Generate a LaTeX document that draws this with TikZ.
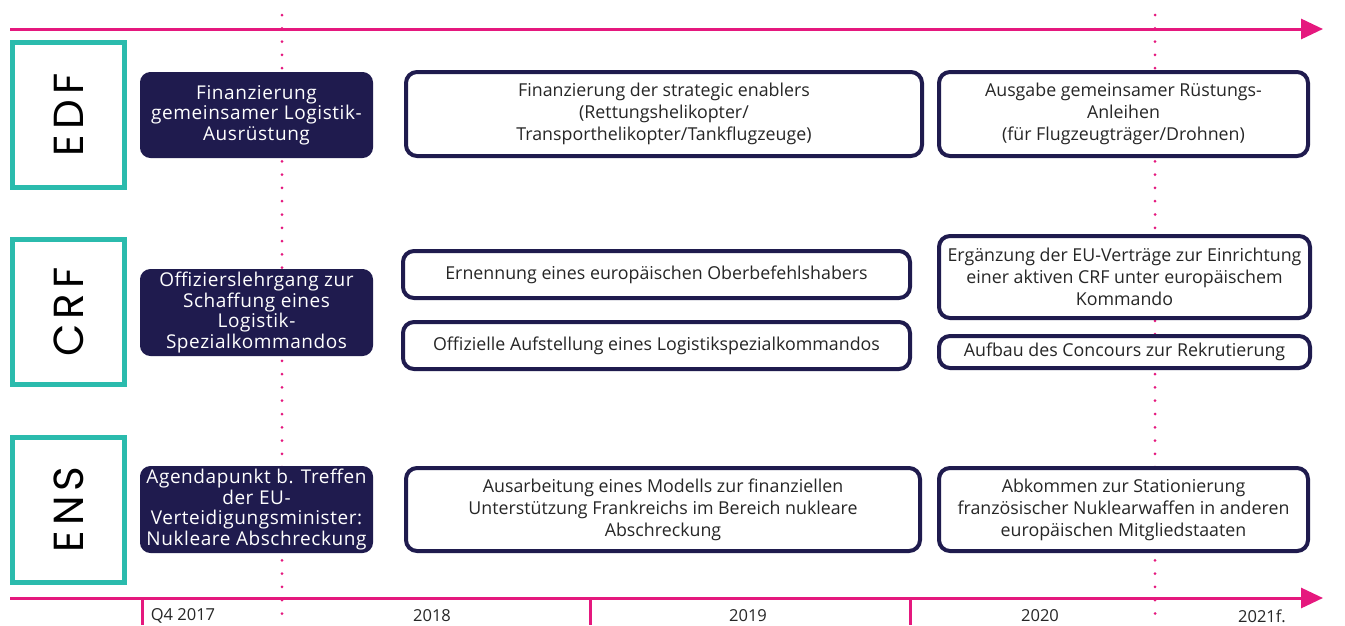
\documentclass[tikz,border=0pt]{standalone}
\usepackage{fontspec}
\setmainfont{Open Sans}
\newfontfamily\labfont{Poppins}[LetterSpace=12]
\newfontfamily\darkfont{Open Sans}[LetterSpace=3]
\usetikzlibrary{arrows.meta}
\definecolor{navy}{HTML}{1F1B4E}
\definecolor{tealc}{HTML}{2BBBAD}
\definecolor{pinkc}{HTML}{E5187E}
\definecolor{txtc}{HTML}{262626}
\begin{document}
\begin{tikzpicture}[x=1pt,y=-1pt,
  lab/.style={draw=tealc, line width=5pt, fill=white, minimum width=145pt, minimum height=112pt, inner sep=0pt, outer sep=0pt, rotate=90, font=\labfont\fontsize{42}{44}\selectfont, text=black},
  dbox/.style={fill=navy, draw=navy, line width=1pt, rounded corners=10pt, text=white, align=center, inner sep=0pt, outer sep=0pt, minimum width=232pt, font=\darkfont\fontsize{19}{20.5}\selectfont},
  wbox/.style={fill=white, draw=navy, line width=4pt, rounded corners=11pt, text=txtc, align=center, inner sep=0pt, outer sep=0pt, font=\fontsize{17.8}{22}\selectfont},
  axis/.style={pinkc, line width=3pt, -{Triangle[length=22pt,width=20pt]}},
  tick/.style={pinkc, line width=3pt},
  dots/.style={pinkc, line width=3pt, line cap=round, dash pattern=on 0pt off 13.3pt},
  yr/.style={text=txtc, font=\fontsize{16.5}{18}\selectfont, inner sep=0pt}
]
\useasboundingbox (0,0) rectangle (1345,625);
\fill[white] (0,0) rectangle (1345,625);

% dotted period lines
\coordinate (d1a) at (282,15);
\coordinate (d1b) at (282,625);
\coordinate (d2a) at (1155,15);
\coordinate (d2b) at (1155,625);
\draw[dots] (d1a) -- (d1b);
\draw[dots] (d2a) -- (d2b);

% axes
\coordinate (ta) at (10,29);
\coordinate (tb) at (1323,29);
\coordinate (ba) at (10,598);
\coordinate (bb) at (1323,598);
\draw[axis] (ta) -- (tb);
\draw[axis] (ba) -- (bb);

% ticks
\coordinate (t1a) at (142,598); \coordinate (t1b) at (142,625);
\coordinate (t2a) at (590,598); \coordinate (t2b) at (590,625);
\coordinate (t3a) at (910,598); \coordinate (t3b) at (910,625);
\draw[tick] (t1a) -- (t1b);
\draw[tick] (t2a) -- (t2b);
\draw[tick] (t3a) -- (t3b);

% year labels
\node[yr] (y1) at (183,616) {Q4 2017};
\node[yr] (y2) at (432,616) {2018};
\node[yr] (y3) at (748,616) {2019};
\node[yr] (y4) at (1040,616) {2020};
\node[yr] (y5) at (1262,616) {2021f.};

% row labels
\node[lab] (edf) at (68.5,115) {EDF};
\node[lab] (crf) at (68.5,312) {CRF};
\node[lab] (ens) at (68.5,509.5) {ENS};

% dark boxes
\node[dbox, minimum height=85pt] (edf0) at (256.5,115) {Finanzierung\\gemeinsamer Logistik-\\Ausrüstung};
\node[dbox, minimum height=86pt] (crf0) at (256.5,312.5) {Offizierslehrgang zur\\Schaffung eines\\Logistik-\\Spezialkommandos};
\node[dbox, minimum height=86pt] (ens0) at (256.5,509.5) {Agendapunkt b. Treffen\\der EU-\\Verteidigungsminister:\\Nukleare Abschreckung};

% EDF row
\node[wbox, minimum width=516pt, minimum height=84pt] (edf1) at (664,114) {Finanzierung der strategic enablers\\(Rettungshelikopter/\\Transporthelikopter/Tankflugzeuge)};
\node[wbox, minimum width=369pt, minimum height=84pt] (edf2) at (1123.5,114) {Ausgabe gemeinsamer Rüstungs-\\Anleihen\\(für Flugzeugträger/Drohnen)};

% CRF row
\node[wbox, minimum width=507pt, minimum height=47pt] (crf1) at (656.5,274.5) {Ernennung eines europäischen Oberbefehlshabers};
\node[wbox, minimum width=507pt, minimum height=47pt] (crf2) at (656.5,345.5) {Offizielle Aufstellung eines Logistikspezialkommandos};
\node[wbox, minimum width=371pt, minimum height=82pt] (crf3) at (1124.5,277) {Ergänzung der EU-Verträge zur Einrichtung\\einer aktiven CRF unter europäischem\\Kommando};
\node[wbox, minimum width=371pt, minimum height=32pt] (crf4) at (1124.5,352) {Aufbau des Concours zur Rekrutierung};

% ENS row
\node[wbox, minimum width=514pt, minimum height=83pt] (ens1) at (663,509.5) {Ausarbeitung eines Modells zur finanziellen\\Unterstützung Frankreichs im Bereich nukleare\\Abschreckung};
\node[wbox, minimum width=369pt, minimum height=83pt] (ens2) at (1123.5,509.5) {Abkommen zur Stationierung\\französischer Nuklearwaffen in anderen\\europäischen Mitgliedstaaten};
\end{tikzpicture}
\end{document}
